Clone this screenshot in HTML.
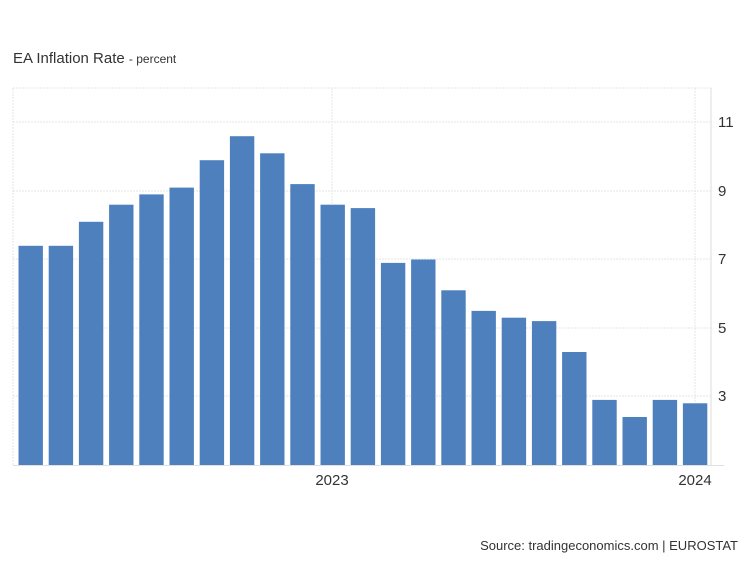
<!DOCTYPE html>
<html><head><meta charset="utf-8"><style>body{margin:0;background:#fff}svg{display:block}</style></head><body>
<svg width="750" height="562" xmlns="http://www.w3.org/2000/svg" font-family="Liberation Sans, Arial, sans-serif">
<rect width="750" height="562" fill="#fff"/>
<text x="13" y="63" font-size="15" fill="#333">EA Inflation Rate <tspan font-size="12">- percent</tspan></text>
<g stroke="#e6e6e6" stroke-width="1" stroke-dasharray="2,1">
<line x1="13" y1="88" x2="711" y2="88"/>
<line x1="13" y1="122" x2="711" y2="122"/>
<line x1="13" y1="191" x2="711" y2="191"/>
<line x1="13" y1="259" x2="711" y2="259"/>
<line x1="13" y1="328" x2="711" y2="328"/>
<line x1="13" y1="396" x2="711" y2="396"/>
<line x1="13" y1="88" x2="13" y2="465"/>
<line x1="332" y1="88" x2="332" y2="465"/>
<line x1="695" y1="88" x2="695" y2="465"/>
</g>
<line x1="711" y1="88" x2="711" y2="465" stroke="#ddd"/>
<line x1="13" y1="465.5" x2="724" y2="465.5" stroke="#e0e0e0"/>
<g fill="#4e80bd">
<rect x="18.5" y="245.8" width="24.4" height="219.2"/>
<rect x="48.7" y="245.8" width="24.4" height="219.2"/>
<rect x="78.9" y="221.8" width="24.4" height="243.2"/>
<rect x="109.1" y="204.7" width="24.4" height="260.3"/>
<rect x="139.3" y="194.4" width="24.4" height="270.6"/>
<rect x="169.5" y="187.6" width="24.4" height="277.4"/>
<rect x="199.7" y="160.2" width="24.4" height="304.8"/>
<rect x="229.9" y="136.2" width="24.4" height="328.8"/>
<rect x="260.1" y="153.3" width="24.4" height="311.7"/>
<rect x="290.3" y="184.1" width="24.4" height="280.9"/>
<rect x="320.5" y="204.7" width="24.4" height="260.3"/>
<rect x="350.7" y="208.1" width="24.4" height="256.9"/>
<rect x="380.9" y="262.9" width="24.4" height="202.1"/>
<rect x="411.1" y="259.5" width="24.4" height="205.5"/>
<rect x="441.3" y="290.3" width="24.4" height="174.7"/>
<rect x="471.5" y="310.9" width="24.4" height="154.1"/>
<rect x="501.7" y="317.7" width="24.4" height="147.3"/>
<rect x="531.9" y="321.1" width="24.4" height="143.9"/>
<rect x="562.1" y="352" width="24.4" height="113"/>
<rect x="592.3" y="399.9" width="24.4" height="65.1"/>
<rect x="622.5" y="417" width="24.4" height="48"/>
<rect x="652.7" y="399.9" width="24.4" height="65.1"/>
<rect x="682.9" y="403.3" width="24.4" height="61.7"/>
</g>
<g font-size="15" fill="#333">
<text x="718" y="127">11</text>
<text x="718" y="196">9</text>
<text x="718" y="264">7</text>
<text x="718" y="333">5</text>
<text x="718" y="401">3</text>
<text x="332" y="485" text-anchor="middle">2023</text>
<text x="695" y="485" text-anchor="middle">2024</text>
</g>
<text x="738" y="550" font-size="13" fill="#333" text-anchor="end">Source: tradingeconomics.com | EUROSTAT</text>
</svg>
</body></html>
